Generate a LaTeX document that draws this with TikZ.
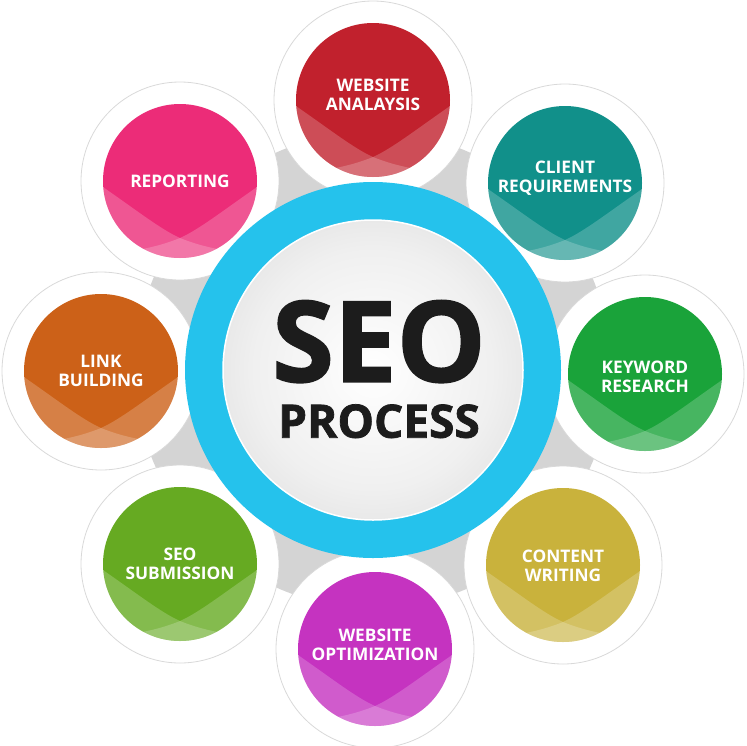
\documentclass[tikz,border=0pt]{standalone}
\usepackage{fontspec}
\setmainfont{Open Sans}
\newfontfamily\heavyfont{Open Sans}[BoldFeatures={FakeBold=1.6}]
\usetikzlibrary{positioning,calc}
\definecolor{analysisred}{RGB}{193,33,45}
\definecolor{clientteal}{RGB}{17,144,138}
\definecolor{keywordgreen}{RGB}{26,163,58}
\definecolor{contentgold}{RGB}{201,178,60}
\definecolor{optimmagenta}{RGB}{197,51,192}
\definecolor{submitgreen}{RGB}{102,170,34}
\definecolor{linkorange}{RGB}{204,97,24}
\definecolor{reportpink}{RGB}{236,44,120}
\definecolor{hubblue}{RGB}{37,194,236}
\definecolor{hubtext}{RGB}{28,28,28}
\pgfdeclareradialshading{backdrop}{\pgfpoint{0bp}{0bp}}{color(0bp)=(gray!34); color(39bp)=(gray!34); color(50bp)=(gray!8)}
\pgfdeclareradialshading{hubglow}{\pgfpoint{0bp}{0bp}}{color(0bp)=(white); color(20bp)=(white!94!black); color(50bp)=(white!78!black)}
\tikzstyle{ring}=[circle, fill=white, draw=gray!30, line width=0.8, minimum size=198, inner sep=0]
\tikzstyle{bubble}=[circle, minimum size=154, inner sep=0, text=white, align=center, font=\bfseries\fontsize{17.3}{18.5}\selectfont]
\tikzstyle{hubword}=[inner sep=0, text depth=0pt, text=hubtext]
% lighter lower band of a bubble
\newcommand{\gloss}[1]{
	\begin{scope}
		\clip (#1.center) circle (77);
		\begin{scope}[shift={(#1.center)}]
			\fill[white,opacity=.2] (-80,4) .. controls (-45,28) and (-20,48) .. (0,57) .. controls (22,66) and (50,72) .. (80,72) -- (80,85) -- (-80,85) -- cycle;
			\fill[white,opacity=.2] (80,4) .. controls (45,28) and (20,48) .. (0,57) .. controls (-22,66) and (-50,72) .. (-80,72) -- (-80,85) -- (80,85) -- cycle;
		\end{scope}
	\end{scope}}

\begin{document}
\begin{tikzpicture}[x=1pt,y=-1pt]
	\useasboundingbox (0,0) rectangle (747,745);
	\coordinate (hub) at (373,370);
	\shade[shading=backdrop] (hub) circle (238);
	
	\node[ring](analysisring) at (373,100) {};
	\node[ring](clientring) at (565,183) {};
	\node[ring](keywordring) at (645,374) {};
	\node[ring](contentring) at (563,565) {};
	\node[ring](optimring) at (375,649) {};
	\node[ring](submitring) at (180,564) {};
	\node[ring](linkring) at (101,371) {};
	\node[ring](reportring) at (180,181) {};
	
	\fill[analysisred] (analysisring) circle (77);
	\fill[clientteal] (clientring) circle (77);
	\fill[keywordgreen] (keywordring) circle (77);
	\fill[contentgold] (contentring) circle (77);
	\fill[optimmagenta] (optimring) circle (77);
	\fill[submitgreen] (submitring) circle (77);
	\fill[linkorange] (linkring) circle (77);
	\fill[reportpink] (reportring) circle (77);
	\gloss{analysisring} \gloss{clientring} \gloss{keywordring} \gloss{contentring}
	\gloss{optimring} \gloss{submitring} \gloss{linkring} \gloss{reportring}
	
	\node[bubble](analysis) at ([yshift=5]analysisring) {WEBSITE\\ANALAYSIS};
	\node[bubble](client) at ([yshift=5]clientring) {CLIENT\\REQUIREMENTS};
	\node[bubble](keyword) at ([yshift=-3]keywordring) {KEYWORD\\RESEARCH};
	\node[bubble](content) at ([yshift=-1]contentring) {CONTENT\\WRITING};
	\node[bubble](optim) at ([yshift=4]optimring) {WEBSITE\\OPTIMIZATION};
	\node[bubble](submit) at (submitring) {SEO\\SUBMISSION};
	\node[bubble](link) at (linkring) {LINK\\BUILDING};
	\node[bubble](report) at (reportring) {REPORTING};
	
	% centre
	\draw[hubblue, line width=38] (hub) circle (169);
	\shade[shading=hubglow] (hub) circle (150);
	\draw[white, line width=1.5] (hub) circle (150);
	\node[hubword, font=\heavyfont\bfseries\fontsize{112}{112}\selectfont](seo) at (379,341) {SEO};
	\node[hubword, font=\heavyfont\bfseries\fontsize{46}{46}\selectfont](process) at (379,421) {PROCESS};
\end{tikzpicture}
\end{document}
